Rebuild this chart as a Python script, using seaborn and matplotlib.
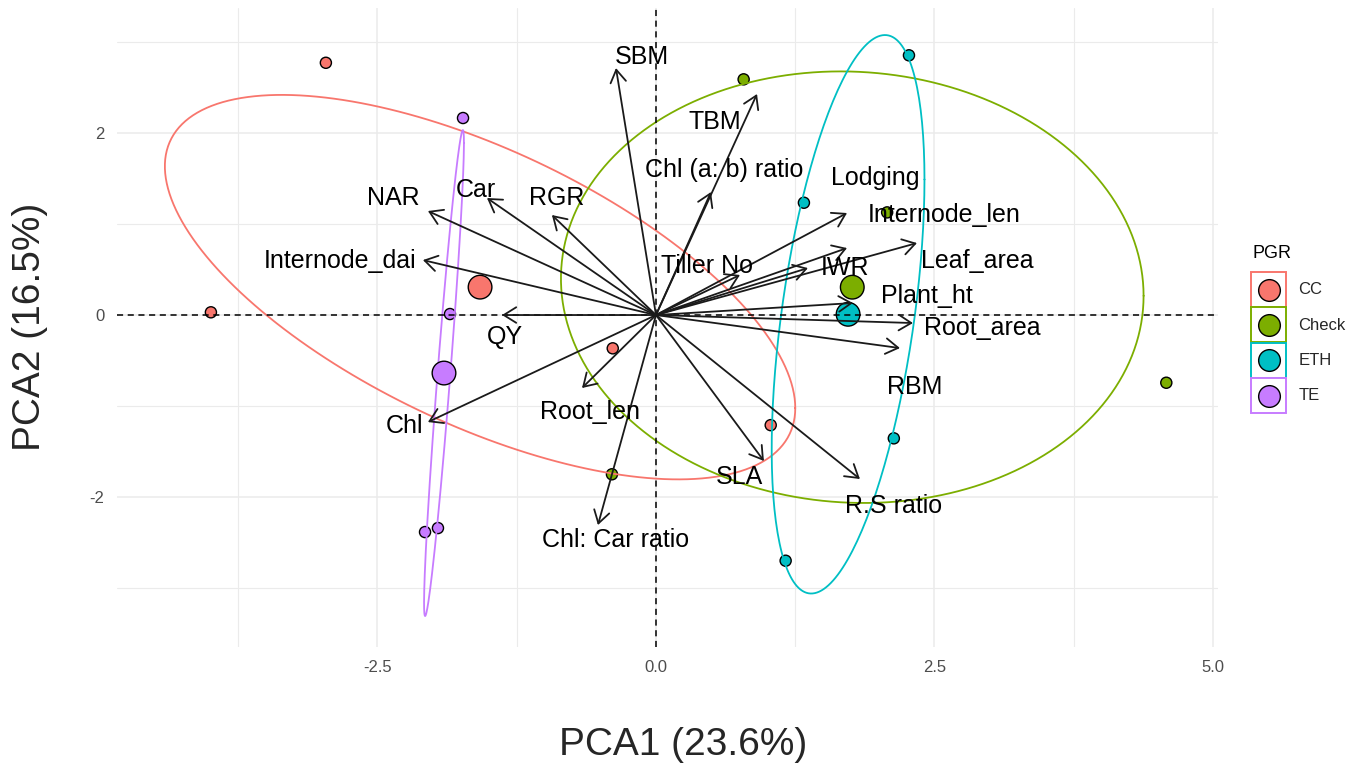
import numpy as np
import pandas as pd
import matplotlib
matplotlib.use("Agg")
import matplotlib.pyplot as plt
import seaborn as sns
from matplotlib.patches import Rectangle, Patch
from matplotlib.lines import Line2D
from matplotlib.legend_handler import HandlerBase
from matplotlib.ticker import FixedLocator

# ---------------- data ----------------
groups = ["CC", "Check", "ETH", "TE"]
group_colors = ["#F8766D", "#7CAE00", "#00BFC4", "#C77CFF"]

obs_group = ["CC"] * 4 + ["Check"] * 4 + ["ETH"] * 4 + ["TE"] * 4
obs_pc1 = [-2.963, -3.995, -0.388, 1.030,
           0.787, 2.075, 4.581, -0.395,
           2.271, 1.328, 2.135, 1.164,
           -1.732, -1.849, -2.073, -1.957]
obs_pc2 = [2.772, 0.030, -0.366, -1.210,
           2.590, 1.128, -0.744, -1.750,
           2.854, 1.234, -1.355, -2.700,
           2.165, 0.011, -2.385, -2.341]

var_names = ["SBM", "TBM", "Chl (a: b) ratio", "Lodging", "Internode_len",
             "Leaf_area", "IWR", "Tiller No", "Plant_ht", "Root_area", "RBM",
             "R.S ratio", "SLA", "Chl: Car ratio", "Root_len", "Chl", "QY",
             "Internode_dai", "NAR", "Car", "RGR"]
var_pc1 = [-0.359, 0.907, 0.494, 1.715, 1.715, 2.343, 1.364, 0.754, 1.768,
           2.307, 2.190, 1.831, 0.969, -0.521, -0.664, -2.047, -1.382,
           -2.092, -2.047, -1.517, -0.934]
var_pc2 = [2.714, 2.429, 1.352, 1.121, 0.736, 0.791, 0.516, 0.440, 0.132,
           -0.088, -0.363, -1.802, -1.604, -2.308, -0.802, -1.176, 0.000,
           0.604, 1.143, 1.286, 1.099]

x_ticks = [-2.5, 0.0, 2.5, 5.0]
x_tick_labels = ["-2.5", "0.0", "2.5", "5.0"]
y_ticks = [-2, 0, 2]
y_tick_labels = ["-2", "0", "2"]
x_title = "PCA1 (23.6%)"
y_title = "PCA2 (16.5%)"
legend_title = "PGR"

# ---------------- layout (label offsets from arrow tips, pixels) ----------------
label_offsets = [(26, 11), (-42, -28), (13, 22), (28, 35), (97, 33),
                 (60, -18), (37, 0), (-33, 9), (74, 7), (69, -5), (15, -39),
                 (34, -27), (-24, -16), (18, -15), (8, -24), (-23, -4),
                 (3, -22), (-83, -1), (-35, 13), (-11, 8), (5, 17)]
ELLIPSE_RADIUS = 1.226

# ---------------- styling ----------------
sns.set_theme(style="white")
plt.rcParams["font.family"] = ["Liberation Sans", "DejaVu Sans"]

df = pd.DataFrame({"group": obs_group, "pc1": obs_pc1, "pc2": obs_pc2})
means = df.groupby("group", sort=False)[["pc1", "pc2"]].mean().reset_index()
pal = dict(zip(groups, group_colors))

fig = plt.figure(figsize=(13.67, 7.68), dpi=100)
ax = fig.add_axes([117 / 1367, 1 - 647 / 768, (1218 - 117) / 1367, (647 - 8) / 768])
ax.set_xlim(-4.838, 5.045)
ax.set_ylim(-3.648, 3.374)
for s in ax.spines.values():
    s.set_visible(False)

# grid
ax.xaxis.set_major_locator(FixedLocator(x_ticks))
ax.yaxis.set_major_locator(FixedLocator(y_ticks))
ax.xaxis.set_minor_locator(FixedLocator([-3.75, -1.25, 1.25, 3.75]))
ax.yaxis.set_minor_locator(FixedLocator([-3, -1, 1, 3]))
ax.grid(which="major", color="#EBEBEB", lw=1.1, zorder=0)
ax.grid(which="minor", color="#EBEBEB", lw=0.8, zorder=0)
ax.set_axisbelow(True)
ax.set_xticklabels(x_tick_labels)
ax.set_yticklabels(y_tick_labels)
ax.tick_params(axis="both", which="major", length=5, width=1.1, color="#333333",
               labelsize=12, labelcolor="#4D4D4D", pad=4)
ax.tick_params(axis="both", which="minor", length=0)

# individual points
sns.scatterplot(data=df, x="pc1", y="pc2", hue="group", palette=pal, s=64,
                edgecolor="black", linewidth=1.0, legend=False, ax=ax, zorder=3)

# ellipses from group covariance
theta = np.linspace(0, 2 * np.pi, 200)
circle = np.column_stack([np.cos(theta), np.sin(theta)])
for g in groups:
    sub = df[df["group"] == g][["pc1", "pc2"]].to_numpy()
    mu = sub.mean(axis=0)
    L = np.linalg.cholesky(np.cov(sub, rowvar=False))
    ell = mu + ELLIPSE_RADIUS * circle @ L.T
    ax.plot(ell[:, 0], ell[:, 1], color=pal[g], lw=1.3, zorder=3.5)

# group means
sns.scatterplot(data=means, x="pc1", y="pc2", hue="group", palette=pal, s=290,
                edgecolor="black", linewidth=1.0, legend=False, ax=ax, zorder=4)

# reference lines
ax.axhline(0, color="black", lw=1.1, ls=(0, (4, 3)), zorder=5)
ax.axvline(0, color="black", lw=1.1, ls=(0, (4, 3)), zorder=5)

# variable arrows and labels
for name, vx, vy, off in zip(var_names, var_pc1, var_pc2, label_offsets):
    ax.annotate("", xy=(vx, vy), xytext=(0, 0),
                arrowprops=dict(arrowstyle="->,head_length=0.45,head_width=0.28",
                                color="#1A1A1A", lw=1.3, shrinkA=0, shrinkB=0,
                                mutation_scale=20),
                zorder=6)
    ax.annotate(name, xy=(vx, vy), xytext=off, textcoords="offset pixels",
                ha="center", va="center", fontsize=18, color="black", zorder=7)

ax.set_xlabel("")
ax.set_ylabel("")
fig.text(683 / 1367, 1 - 745 / 768, x_title, fontsize=28, ha="center", va="center")
fig.text(30 / 1367, 1 - 327 / 768, y_title, fontsize=28, ha="center", va="center",
         rotation=90)


# legend with boxed dots
class BoxedDot(HandlerBase):
    def __init__(self, color):
        super().__init__()
        self.color = color

    def create_artists(self, legend, orig_handle, xdescent, ydescent, width,
                       height, fontsize, trans):
        side = height
        x0 = -xdescent + (width - side) / 2
        y0 = -ydescent
        rect = Rectangle((x0, y0), side, side, facecolor="white",
                         edgecolor=self.color, lw=1.4, transform=trans)
        dot = Line2D([x0 + side / 2], [y0 + side / 2], marker="o",
                     markersize=side * 0.62, markerfacecolor=self.color,
                     markeredgecolor="black", markeredgewidth=1.0,
                     linestyle="none", transform=trans)
        return [rect, dot]


fig.text(1252 / 1367, 1 - 253 / 768, legend_title, fontsize=13, ha="left",
         va="center", color="black")
handles = [Patch(label=g) for g in groups]
hmap = {h: BoxedDot(c) for h, c in zip(handles, group_colors)}
leg = fig.legend(handles=handles, labels=groups, handler_map=hmap,
                 loc="upper left", bbox_to_anchor=(1251 / 1367, 1 - 272 / 768),
                 frameon=False, fontsize=12, handlelength=2.1,
                 handleheight=2.854, labelspacing=0.02, handletextpad=0.75,
                 borderpad=0, borderaxespad=0)

fig.savefig("out.png", dpi=100)
